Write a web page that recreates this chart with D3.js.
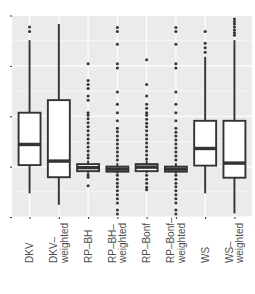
<!DOCTYPE html>
<html>
<head>
<meta charset="utf-8">
<script src="https://cdn.jsdelivr.net/npm/d3@7"></script>
<style>
  body { margin: 0; background: #fff; }
  text { font-family: "Liberation Sans", Arial, sans-serif; }
</style>
</head>
<body>
<script>
// one entry per method, "\n" splits the axis label over two lines
const methods = ['DKV', 'DKV–\nweighted', 'RP–BH', 'RP–BH–\nweighted',
                 'RP–Bonf', 'RP–Bonf–\nweighted', 'WS', 'WS–\nweighted'];

const whiskerLow  = [0.47, 0.24, 0.87, 0.86, 0.87, 0.86, 0.47, 0.07];
const lowerQ      = [1.03, 0.79, 0.91, 0.90, 0.91, 0.90, 1.02, 0.78];
const medians     = [1.44, 1.11, 0.98, 0.95, 0.99, 0.95, 1.36, 1.07];
const upperQ      = [2.07, 2.32, 1.05, 1.00, 1.05, 1.00, 1.91, 1.91];
const whiskerHigh = [3.51, 3.83, 1.12, 1.07, 1.12, 1.07, 3.18, 3.51];

const outliers = [
    [3.68, 3.77],
    [],
    [3.04, 2.71, 2.63, 2.55, 2.40, 2.32, 2.07, 2.02, 1.95, 1.87, 1.79, 1.71, 1.63,
     1.55, 1.47, 1.39, 1.31, 1.23, 1.17, 0.84, 0.79, 0.62],
    [3.76, 3.68, 3.43, 3.04, 2.96, 2.48, 2.24, 2.07, 1.91, 1.76, 1.69, 1.61, 1.53,
     1.45, 1.37, 1.29, 1.21, 1.13, 0.83, 0.75, 0.67, 0.60, 0.52, 0.44, 0.36, 0.28,
     0.14, 0.06],
    [3.12, 2.63, 2.40, 2.24, 2.16, 2.07, 2.02, 1.94, 1.86, 1.79, 1.71, 1.63, 1.55,
     1.47, 1.39, 1.31, 1.23, 1.15, 0.83, 0.75, 0.67, 0.59, 0.54],
    [3.76, 3.68, 3.43, 3.04, 2.96, 2.48, 2.24, 2.07, 1.91, 1.76, 1.68, 1.61, 1.53,
     1.45, 1.37, 1.29, 1.21, 1.13, 0.83, 0.75, 0.67, 0.60, 0.52, 0.44, 0.36, 0.28,
     0.14, 0.06],
    [3.27, 3.36, 3.45, 3.68],
    [3.61, 3.66, 3.71, 3.77, 3.83, 3.88, 3.93]
];

const yMajor = [0, 1, 2, 3, 4];
const yMinor = [0.5, 1.5, 2.5, 3.5];

const width = 255, height = 294;
const panel = { left: 12, right: 252, top: 15.5, bottom: 217 };
const ink = '#333333';

const svg = d3.select('body').append('svg')
    .attr('width', width)
    .attr('height', height);

const x = d3.scalePoint()
    .domain(methods)
    .range([panel.left, panel.right])
    .padding(0.6);

const y = d3.scaleLinear()
    .domain([0, 4])
    .range([panel.bottom, panel.top]);

const boxWidth = x.step() * 0.75;

// panel + grid
svg.append('rect')
    .attr('x', panel.left).attr('y', panel.top)
    .attr('width', panel.right - panel.left)
    .attr('height', panel.bottom - panel.top)
    .attr('fill', '#EBEBEB');

const grid = svg.append('g').attr('stroke', '#fff');
grid.selectAll('.minor').data(yMinor).join('line')
    .attr('x1', panel.left).attr('x2', panel.right)
    .attr('y1', d => y(d)).attr('y2', d => y(d))
    .attr('stroke-width', 0.55);
grid.selectAll('.major').data(yMajor).join('line')
    .attr('x1', panel.left).attr('x2', panel.right)
    .attr('y1', d => y(d)).attr('y2', d => y(d))
    .attr('stroke-width', 1.1);
grid.selectAll('.vert').data(methods).join('line')
    .attr('x1', d => x(d)).attr('x2', d => x(d))
    .attr('y1', panel.top).attr('y2', panel.bottom)
    .attr('stroke-width', 1.1);

// boxes
const boxes = svg.append('g')
    .selectAll('g')
    .data(methods)
    .join('g')
    .attr('transform', d => `translate(${x(d)},0)`);

boxes.append('line')
    .attr('y1', (d, i) => y(whiskerHigh[i]))
    .attr('y2', (d, i) => y(upperQ[i]))
    .attr('stroke', ink).attr('stroke-width', 1.9);
boxes.append('line')
    .attr('y1', (d, i) => y(lowerQ[i]))
    .attr('y2', (d, i) => y(whiskerLow[i]))
    .attr('stroke', ink).attr('stroke-width', 1.9);

boxes.append('rect')
    .attr('x', -boxWidth / 2)
    .attr('width', boxWidth)
    .attr('y', (d, i) => y(upperQ[i]))
    .attr('height', (d, i) => y(lowerQ[i]) - y(upperQ[i]))
    .attr('fill', '#fff')
    .attr('stroke', ink)
    .attr('stroke-width', 1.9);

boxes.append('line')
    .attr('x1', -boxWidth / 2).attr('x2', boxWidth / 2)
    .attr('y1', (d, i) => y(medians[i]))
    .attr('y2', (d, i) => y(medians[i]))
    .attr('stroke', ink).attr('stroke-width', 3.4);

boxes.selectAll('circle')
    .data((d, i) => outliers[i])
    .join('circle')
    .attr('cy', v => y(v))
    .attr('r', 1.5)
    .attr('fill', ink);

// axes: ticks only, no numbers on y
const yAxis = svg.append('g')
    .attr('transform', `translate(${panel.left},0)`)
    .call(d3.axisLeft(y).tickValues(yMajor).tickFormat('').tickSize(2));
yAxis.select('.domain').remove();
yAxis.selectAll('line').attr('stroke', ink);

const xAxis = svg.append('g')
    .attr('transform', `translate(0,${panel.bottom})`)
    .call(d3.axisBottom(x).tickFormat('').tickSize(2));
xAxis.select('.domain').remove();
xAxis.selectAll('line').attr('stroke', ink);

// rotated category labels, lines stacked across the tick
const lineGap = 10.5;
const labels = svg.append('g')
    .attr('font-size', 10)
    .attr('fill', '#4D4D4D');

methods.forEach(m => {
    const lines = m.split('\n');
    const shift = (lines.length - 1) * lineGap / 2;
    lines.forEach((t, j) => {
        labels.append('text')
            .attr('transform', `translate(${x(m) + 3.6 - shift + j * lineGap},263) rotate(-90)`)
            .attr('text-anchor', 'start')
            .text(t);
    });
});
</script>
</body>
</html>
